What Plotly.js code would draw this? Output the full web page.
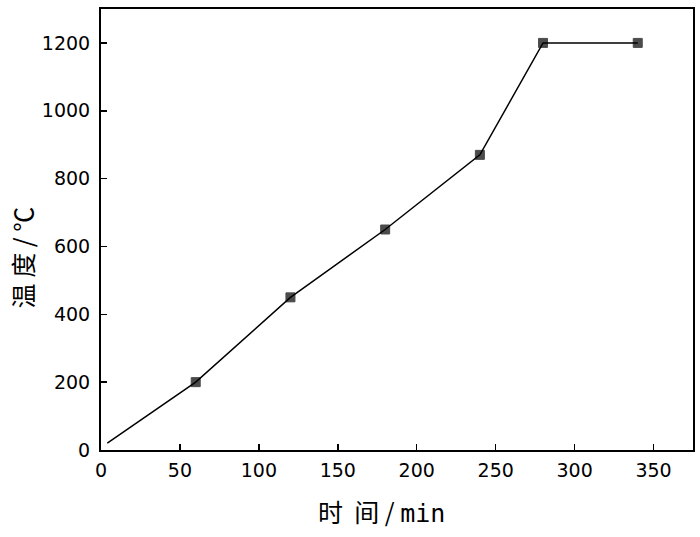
<!DOCTYPE html>
<html><head><meta charset="utf-8">
<script src="https://cdn.plot.ly/plotly-3.0.1.min.js"></script>
<style>html,body{margin:0;padding:0;background:#fff}#chart{width:700px;height:537px}</style>
</head><body><div id="chart"></div>
<script>
const timeMin = [4, 60, 120, 180, 240, 280, 340];
const tempC = [20, 200, 450, 650, 870, 1200, 1200];
const hasMarker = [false, true, true, true, true, true, true];
const xTicks = [0, 50, 100, 150, 200, 250, 300, 350];
const yTicks = [0, 200, 400, 600, 800, 1000, 1200];
const xTitle = '时  间 / <span style="font-family:DejaVu Sans Mono">min</span>';
const yTitle = '温 度 / ℃';

const trace = {
  x: timeMin, y: tempC, type: 'scatter', mode: 'lines+markers',
  line: {color: '#000', width: 1.5},
  marker: {symbol: 'square', color: '#000', size: hasMarker.map(m => m ? 9 : 0), line: {color: '#000', width: 1}},
  showlegend: false, hoverinfo: 'skip'
};
const axisCommon = {
  showline: true, linecolor: '#000', linewidth: 2, mirror: true,
  ticks: 'inside', ticklen: 6, tickwidth: 1.5, tickcolor: '#000',
  showgrid: false, zeroline: false,
  tickfont: {family: 'DejaVu Sans, sans-serif', size: 19, color: '#000'}
};
const titleFont = {family: 'Noto Sans CJK SC', size: 25, color: '#000'};
const layout = {
  width: 700, height: 537,
  margin: {l: 101, r: 7, t: 9, b: 87},
  paper_bgcolor: '#fff', plot_bgcolor: '#fff',
  xaxis: Object.assign({}, axisCommon, {range: [0, 375], tickvals: xTicks, ticktext: xTicks.map(String), ticklabelstandoff: 2}),
  yaxis: Object.assign({}, axisCommon, {range: [0, 1300], tickvals: yTicks, ticktext: yTicks.map(String), ticklabelstandoff: 5}),
  annotations: [
    {text: xTitle, xref: 'paper', yref: 'paper', x: 0.473, y: -0.139, xanchor: 'center', yanchor: 'middle', showarrow: false, font: titleFont},
    {text: yTitle, xref: 'paper', yref: 'paper', x: -0.134, y: 0.436, xanchor: 'center', yanchor: 'middle', textangle: -90, showarrow: false, font: titleFont}
  ]
};
Plotly.newPlot('chart', [trace], layout, {staticPlot: true, displayModeBar: false});
</script></body></html>
